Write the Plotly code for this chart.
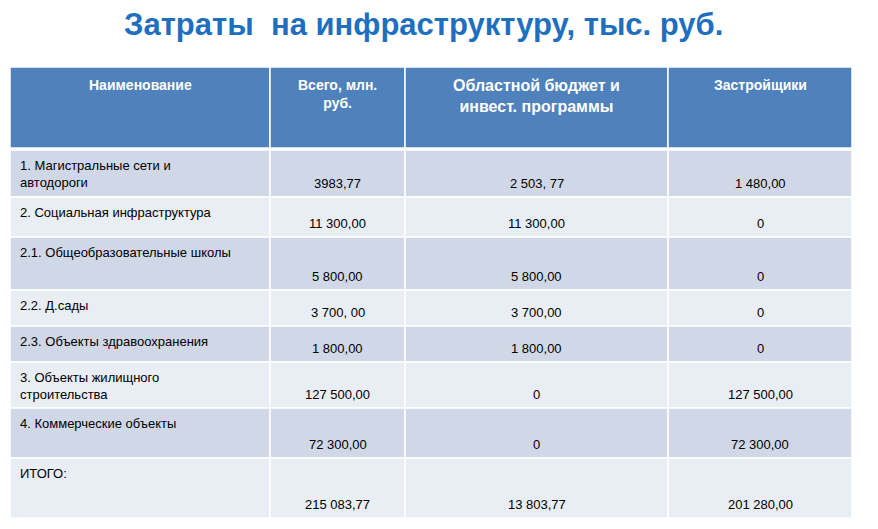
import plotly.graph_objects as go

title = "Затраты  на инфраструктуру, тыс. руб."
headers = ["Наименование", "Всего, млн.<br>руб.", "Областной бюджет и<br>инвест. программы", "Застройщики"]
names = ["1. Магистральные сети и<br>автодороги", "2. Социальная инфраструктура",
         "2.1. Общеобразовательные школы", "2.2. Д.сады", "2.3. Объекты здравоохранения",
         "3. Объекты жилищного<br>строительства", "4. Коммерческие объекты", "<br>ИТОГО:"]
total = ["3983,77", "11 300,00", "5 800,00", "3 700, 00", "1 800,00", "127 500,00", "72 300,00", "215 083,77"]
regional = ["2 503, 77", "11 300,00", "5 800,00", "3 700,00", "1 800,00", "0", "0", "13 803,77"]
developers = ["1 480,00", "0", "0", "0", "0", "127 500,00", "72 300,00", "201 280,00"]

col_edges = [10, 270, 405, 668, 852]
row_edges = [150, 197, 237, 290, 326, 362, 408, 458, 518]
header_top, header_bottom = 67, 148

fig = go.Figure()
shapes, ann = [], []
# header
for i in range(4):
    shapes.append(dict(type="rect", x0=col_edges[i], x1=col_edges[i + 1], y0=header_top, y1=header_bottom,
                       fillcolor="#4F81BD", line=dict(color="white", width=1.5)))
    ann.append(dict(x=(col_edges[i] + col_edges[i + 1]) / 2, y=header_top + 8, text="<b>%s</b>" % headers[i],
                    showarrow=False, yanchor="top", xanchor="center",
                    font=dict(color="white", size=16 if i == 2 else 14), align="center"))
cols = [names, total, regional, developers]
for r in range(len(names)):
    fill = "#D0D8E8" if r % 2 == 0 else "#E9EDF4"
    y0, y1 = row_edges[r], row_edges[r + 1]
    for c in range(4):
        shapes.append(dict(type="rect", x0=col_edges[c], x1=col_edges[c + 1], y0=y0, y1=y1,
                           fillcolor=fill, line=dict(color="white", width=1.5)))
        if c == 0:
            ann.append(dict(x=col_edges[0] + 8, y=y0 + 6, text=cols[c][r], showarrow=False,
                            xanchor="left", yanchor="top", align="left", font=dict(size=13, color="black")))
        else:
            ann.append(dict(x=(col_edges[c] + col_edges[c + 1]) / 2, y=y1 - 4, text=cols[c][r], showarrow=False,
                            xanchor="center", yanchor="bottom", font=dict(size=13, color="black")))
ann.append(dict(x=423, y=24, text="<b>%s</b>" % title, showarrow=False, xanchor="center", yanchor="middle",
                font=dict(size=31, color="#1F6FC0")))

# the page body adds an 8px offset, so the ranges are shifted to compensate
fig.update_layout(width=878, height=529, margin=dict(l=0, r=0, t=0, b=0),
                  plot_bgcolor="white", paper_bgcolor="white", shapes=shapes, annotations=ann,
                  font=dict(family="Liberation Sans, Arial, sans-serif"),
                  xaxis=dict(range=[8, 886], visible=False, fixedrange=True),
                  yaxis=dict(range=[537, 8], visible=False, fixedrange=True))
fig.write_html("out.html")
